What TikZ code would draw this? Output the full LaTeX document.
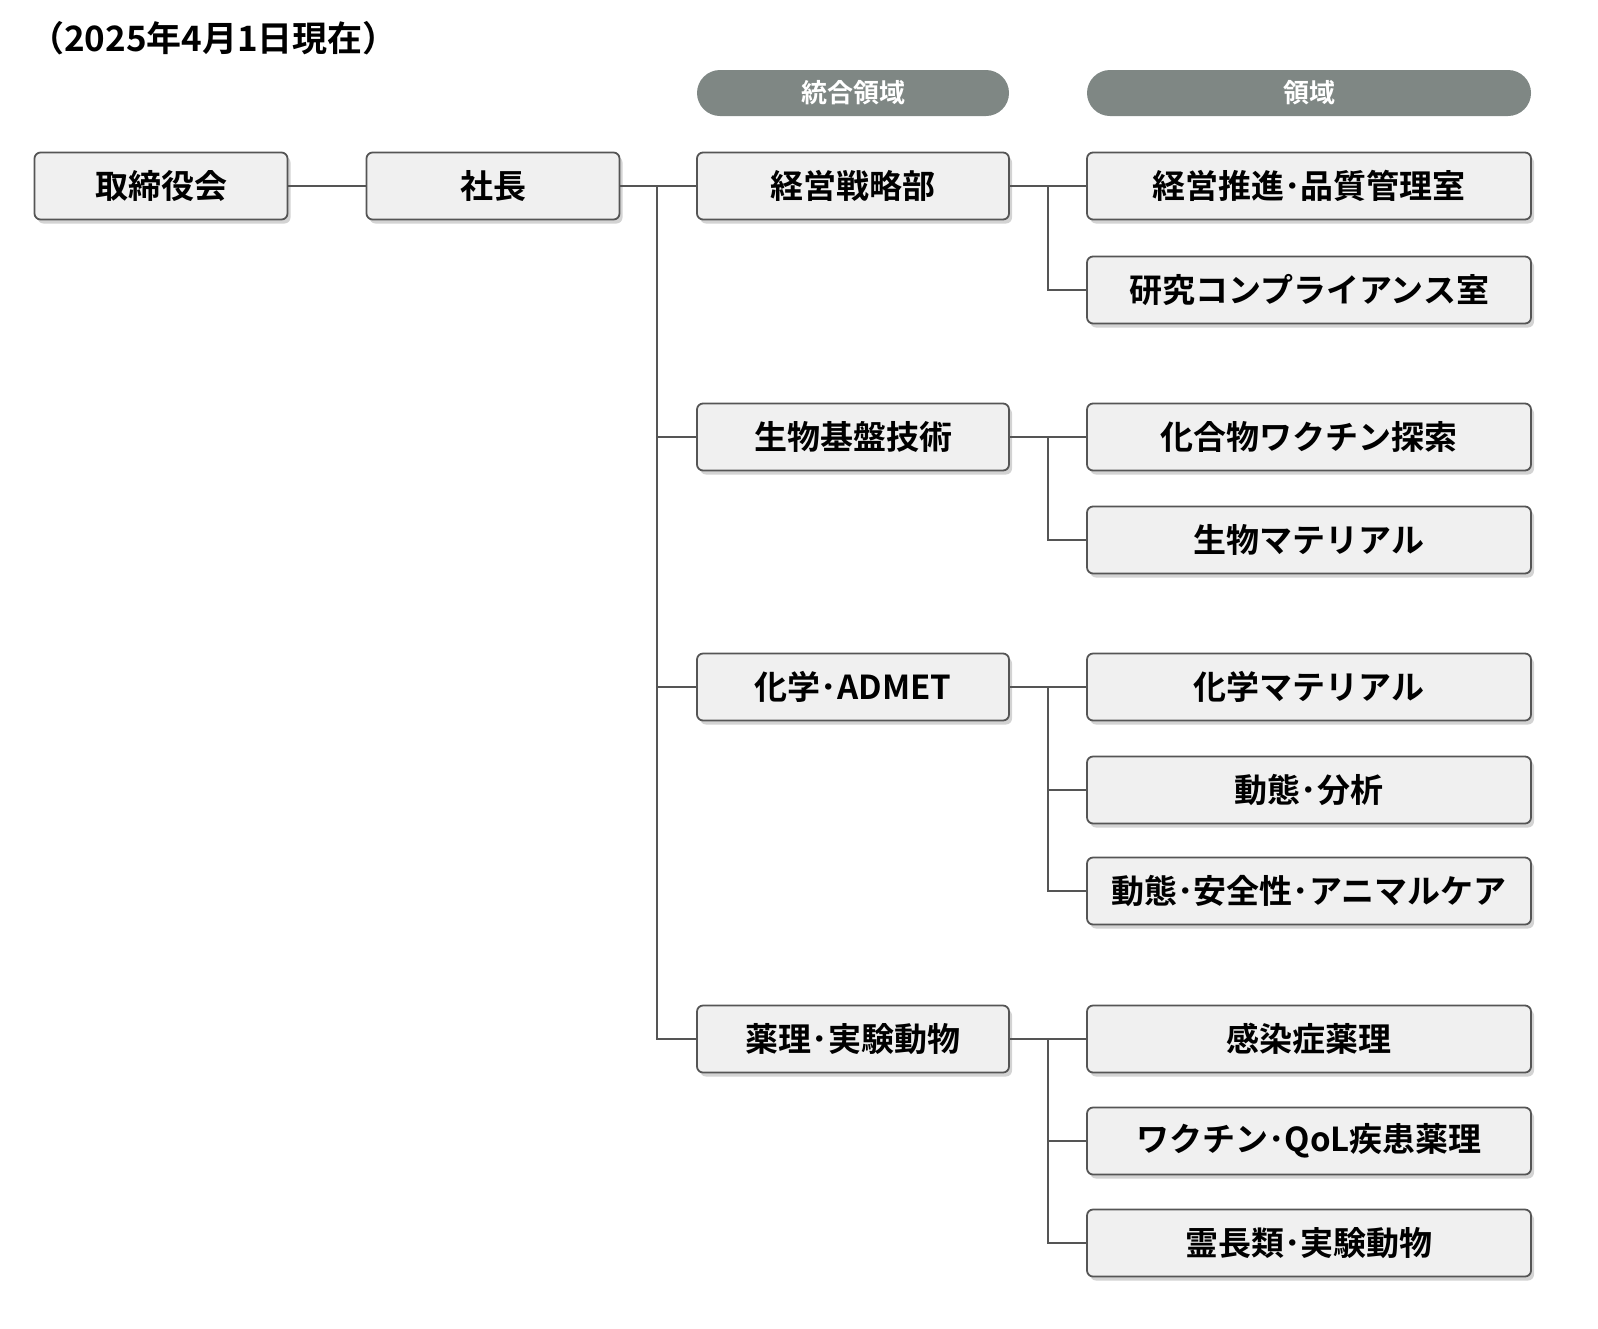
\documentclass[tikz,border=0pt]{standalone}
\usepackage{fontspec}
\setmainfont{Noto Sans CJK JP}[BoldFont={Noto Sans CJK JP Bold}]
\usetikzlibrary{positioning,shadows}
\definecolor{pillgray}{HTML}{7F8784}
\definecolor{boxfill}{HTML}{F0F0F0}
\definecolor{linegray}{HTML}{555555}
\newcommand{\dt}{･}
\tikzset{
	unit/.style={draw=linegray, line width=0.9pt, fill=boxfill, rounded corners=3pt,
			drop shadow={shadow xshift=1.5pt, shadow yshift=-2pt, opacity=0.35},
			minimum height=33.5pt, font=\bfseries\fontsize{16.5}{19}\selectfont, inner sep=0pt},
	pill/.style={fill=pillgray, rounded corners=11.5pt, minimum height=23pt,
			text=white, font=\bfseries\fontsize{13}{15}\selectfont, inner sep=0pt},
	link/.style={draw=linegray, line width=0.8pt}
}
\begin{document}
\begin{tikzpicture}[x=0.5pt, y=-0.5pt]
		\useasboundingbox (0,0) rectangle (1598,1328);
		% Date
		\node[anchor=west, font=\bfseries\fontsize{17.5}{20}\selectfont] (date) at (22,38) {（2025年4月1日現在）};

		% Headers
		\node[pill, minimum width=156pt] (hdrint) at (853,93) {統合領域};
		\node[pill, minimum width=222pt] (hdrdom) at (1309,93) {領域};

		% Top
		\node[unit, minimum width=126.5pt] (board) at (161,186) {取締役会};
		\node[unit, minimum width=126.5pt] (pres) at (493,186) {社長};

		% Integrated areas
		\foreach \name/\y/\txt in {ia/186/経営戦略部, ib/437/生物基盤技術, ic/687/化学\dt ADMET, id/1039/薬理\dt 実験動物}
			\node[unit, minimum width=156pt] (\name) at (853,\y) {\txt};

		% Areas
		\foreach \name/\y/\txt in {da1/186/経営推進\dt 品質管理室, da2/290/研究コンプライアンス室,
				db1/437/化合物ワクチン探索, db2/540/生物マテリアル,
				dc1/687/化学マテリアル, dc2/790/動態\dt 分析, dc3/891/動態\dt 安全性\dt アニマルケア,
				dd1/1039/感染症薬理, dd2/1141/ワクチン\dt QoL疾患薬理, dd3/1243/霊長類\dt 実験動物}
			\node[unit, minimum width=222pt] (\name) at (1309,\y) {\txt};

		% Connectors
		\draw[link] (board) -- (pres);
		\draw[link] (pres.east) -- (ia.west);
		\coordinate (trunk) at (657,186);
		\foreach \n in {ib,ic,id}
			\draw[link] (trunk) |- (\n.west);
		\foreach \p/\list in {ia/{da1,da2}, ib/{db1,db2}, ic/{dc1,dc2,dc3}, id/{dd1,dd2,dd3}}{
			\draw[link] (\p.east) -- (1048,0 |- \p.east) coordinate (fork);
			\foreach \c in \list
				\draw[link] (fork) |- (\c.west);
		}
	\end{tikzpicture}
\end{document}
